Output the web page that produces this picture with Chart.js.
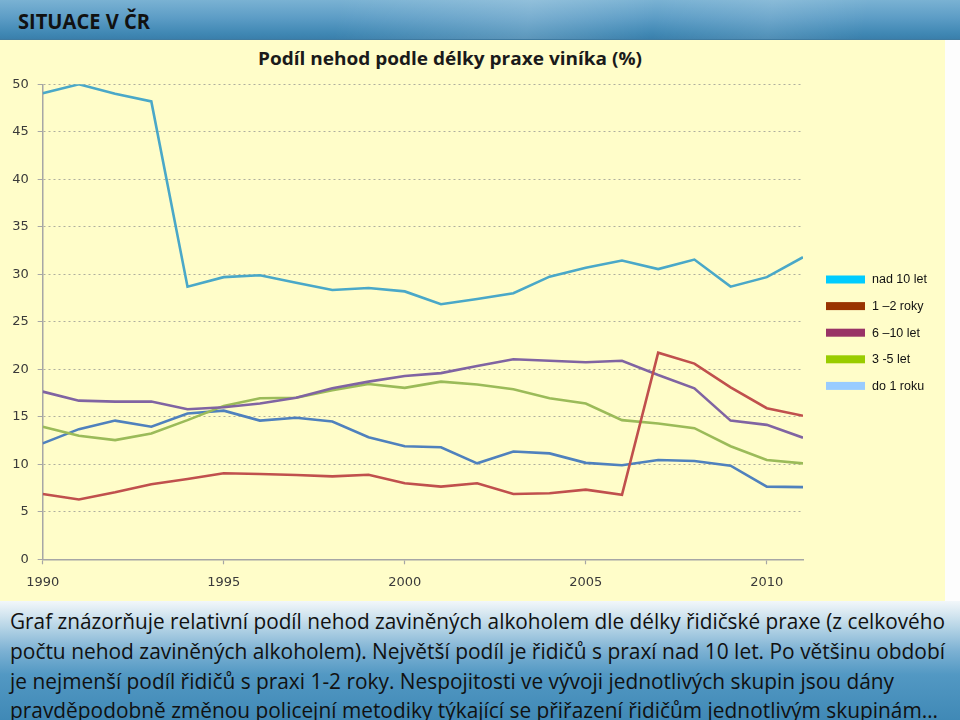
<!DOCTYPE html>
<html>
<head>
<meta charset="utf-8">
<script src="https://cdn.jsdelivr.net/npm/chart.js@4.4.1/dist/chart.umd.min.js"></script>
<style>
  html, body { margin: 0; padding: 0; width: 960px; height: 720px; overflow: hidden; background: #fdfdfd; }
  #header { position: absolute; left: 0; top: 0; width: 960px; height: 40px;
    background:
      linear-gradient(100deg, rgba(255,255,255,0) 35%, rgba(255,255,255,0.18) 55%, rgba(255,255,255,0) 68%, rgba(255,255,255,0.12) 80%, rgba(255,255,255,0) 90%),
      linear-gradient(to bottom, #7ab2d3 0%, #5d9dc6 45%, #4088b4 85%, #3a7fab 100%);
    border-bottom: 1px solid #3f7aa0; box-sizing: border-box; }
  #yellow { position: absolute; left: 0; top: 40px; width: 945px; height: 561px; background: #fffdc9; }
  #bottom { position: absolute; left: 0; top: 601px; width: 960px; height: 119px;
    background: linear-gradient(to bottom, #f2f7fa 0%, #d8e8f1 10%, #b0d1e4 24%, #7cb1d3 42%, #5298c3 62%, #4089b6 100%); }
  .fit { position: absolute; white-space: nowrap; display: inline-block; transform-origin: 0 50%; }
  #htitle { left: 18px; top: 7px; font: bold 20.5px "Open Sans", sans-serif; color: #111; line-height: 28px; }
  #ctitle { left: 258px; top: 47px; font: bold 17px "Open Sans", sans-serif; color: #1a1a1a; line-height: 24px; }
  .bl { left: 10px; font: 22px "Open Sans", sans-serif; color: #111; line-height: 30px; }
  canvas { position: absolute; left: 0; top: 40px; }
</style>
</head>
<body>
<div id="header"></div>
<div id="yellow"></div>
<div id="bottom"></div>
<div id="htitle" class="fit" data-w="132">SITUACE V ČR</div>
<div id="ctitle" class="fit" data-w="384">Podíl nehod podle délky praxe viníka (%)</div>
<div class="fit bl" style="top:605px" data-w="935">Graf znázorňuje relativní podíl nehod zaviněných alkoholem dle délky řidičské praxe (z celkového</div>
<div class="fit bl" style="top:635px" data-w="935">počtu nehod zaviněných alkoholem). Největší podíl je řidičů s praxí nad 10 let. Po většinu období</div>
<div class="fit bl" style="top:665px" data-w="884">je nejmenší podíl řidičů s praxi 1-2 roky. Nespojitosti ve vývoji jednotlivých skupin jsou dány</div>
<div class="fit bl" style="top:694px" data-w="928">pravděpodobně změnou policejní metodiky týkající se přiřazení řidičům jednotlivým skupinám…</div>
<canvas id="c" width="945" height="561"></canvas>
<script>
const years = [1990,1991,1992,1993,1994,1995,1996,1997,1998,1999,2000,2001,2002,2003,2004,2005,2006,2007,2008,2009,2010,2011];
const xTickValues = [1990, 1995, 2000, 2005, 2010];
const nad10 = [49.05,50.0,49.0,48.2,28.7,29.7,29.9,29.1,28.35,28.55,28.2,26.85,27.4,28.0,29.75,30.7,31.45,30.55,31.55,28.7,29.7,31.8];
const roky12 = [6.87,6.3,7.05,7.9,8.45,9.05,8.98,8.87,8.73,8.9,8.0,7.65,8.0,6.87,6.95,7.33,6.8,21.75,20.6,18.1,15.9,15.1];
const let610 = [17.65,16.7,16.6,16.6,15.8,16.0,16.4,17.0,18.0,18.7,19.3,19.6,20.35,21.05,20.9,20.75,20.9,19.4,18.0,14.6,14.15,12.8];
const let35 = [13.95,13.0,12.55,13.25,14.65,16.15,16.95,17.0,17.8,18.45,18.05,18.7,18.4,17.9,16.95,16.4,14.65,14.3,13.8,11.9,10.45,10.1];
const do1 = [12.2,13.7,14.6,13.95,15.35,15.65,14.6,14.9,14.5,12.85,11.9,11.8,10.1,11.35,11.15,10.15,9.9,10.45,10.35,9.85,7.65,7.6];

const seriesLabels = ['nad 10 let', '1 –2 roky', '6 –10 let', '3 -5 let', 'do 1 roku'];
const lineColors = ['#4aa8c8', '#c0504d', '#8064a2', '#9bbb59', '#4f81bd'];
const legendColors = ['#00ccff', '#993300', '#993366', '#99cc00', '#99ccff'];
const seriesValues = [nad10, roky12, let610, let35, do1];

function fitTexts() {
  document.querySelectorAll('.fit').forEach(el => {
    el.style.transform = 'none';
    const w = el.getBoundingClientRect().width;
    el.style.transform = 'scaleX(' + (parseFloat(el.dataset.w) / w) + ')';
  });
}
fitTexts();
if (document.fonts && document.fonts.ready) document.fonts.ready.then(fitTexts);

const legendPlugin = {
  id: 'sideLegend',
  afterDraw(chart) {
    const ctx = chart.ctx;
    const x0 = chart.chartArea.right + 23;
    const y0 = 239.5;
    const step = 26.6;
    ctx.save();
    ctx.font = '12.5px "Liberation Sans", Arial, sans-serif';
    ctx.textBaseline = 'middle';
    seriesLabels.forEach((lab, i) => {
      const yc = y0 + i * step;
      ctx.fillStyle = legendColors[i];
      ctx.fillRect(x0, yc - 4, 39, 8);
      ctx.fillStyle = '#111';
      ctx.fillText(lab, x0 + 46, yc + 0.5);
    });
    ctx.restore();
  }
};

const tickFont = { family: '"DejaVu Sans", sans-serif', size: 13 };

new Chart(document.getElementById('c'), {
  type: 'line',
  data: {
    datasets: seriesLabels.map((lab, i) => ({
      label: lab,
      data: years.map((yr, j) => ({ x: yr, y: seriesValues[i][j] })),
      borderColor: lineColors[i],
      backgroundColor: lineColors[i],
      borderWidth: 2.6,
      pointRadius: 0,
      tension: 0,
      fill: false
    }))
  },
  options: {
    responsive: false,
    animation: false,
    devicePixelRatio: 1,
    layout: { padding: { left: 0, right: 142, top: 44.3, bottom: 0 } },
    plugins: { legend: { display: false }, title: { display: false }, tooltip: { enabled: false } },
    scales: {
      x: {
        type: 'linear', min: 1990, max: 2011,
        ticks: { color: '#3a3a3a', font: tickFont, padding: 11, maxRotation: 0, autoSkip: false,
                 callback: v => String(v) },
        afterBuildTicks: s => { s.ticks = xTickValues.map(v => ({ value: v })); },
        grid: { drawOnChartArea: false, drawTicks: true, tickLength: 5, color: '#a6a6a6', tickWidth: 1.2 },
        border: { color: '#a6a6a6', width: 1.5 },
        afterFit: s => { s.height = 41.7; }
      },
      y: {
        min: 0, max: 50,
        ticks: { stepSize: 5, color: '#3a3a3a', font: tickFont, padding: 9 },
        grid: { color: '#aeae9e', lineWidth: 1, tickLength: 5, tickColor: '#a6a6a6', tickBorderDash: [] },
        border: { color: '#a6a6a6', width: 1.5, dash: [2, 3] },
        afterFit: s => { s.width = 42.7; }
      }
    }
  },
  plugins: [legendPlugin]
});
</script>
</body>
</html>
